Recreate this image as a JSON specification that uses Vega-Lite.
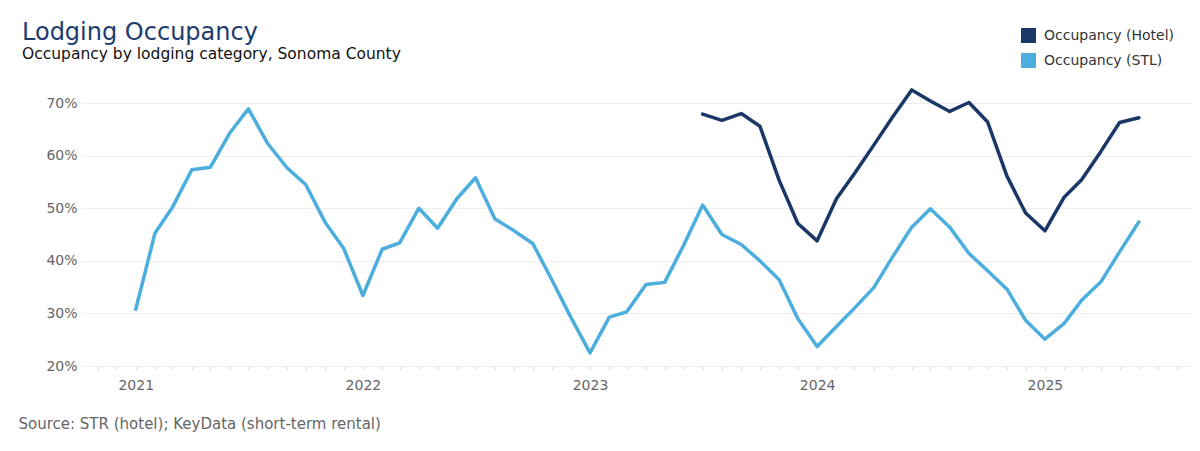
{
  "$schema": "https://vega.github.io/schema/vega-lite/v6.json",
  "autosize": {"type": "none"},
  "padding": {"left": 81, "top": 82, "right": 7, "bottom": 85},
  "width": 1112,
  "height": 284,
  "background": "white",
  "title": {
    "text": "Lodging Occupancy",
    "subtitle": "Occupancy by lodging category, Sonoma County",
    "anchor": "start",
    "frame": "group",
    "dx": -59,
    "offset": -34,
    "font": "DejaVu Sans",
    "fontSize": 24,
    "fontWeight": "normal",
    "color": "#1d3b6e",
    "subtitleFont": "DejaVu Sans",
    "subtitleFontSize": 15.5,
    "subtitleColor": "#111111",
    "subtitlePadding": 2
  },
  "config": {
    "view": {"stroke": null},
    "font": "DejaVu Sans"
  },
  "data": {
    "values": [
      {"date": "2021-01-01", "series": "Occupancy (STL)", "value": 0.308},
      {"date": "2021-02-01", "series": "Occupancy (STL)", "value": 0.453},
      {"date": "2021-03-01", "series": "Occupancy (STL)", "value": 0.502},
      {"date": "2021-04-01", "series": "Occupancy (STL)", "value": 0.573},
      {"date": "2021-05-01", "series": "Occupancy (STL)", "value": 0.578},
      {"date": "2021-06-01", "series": "Occupancy (STL)", "value": 0.643},
      {"date": "2021-07-01", "series": "Occupancy (STL)", "value": 0.689},
      {"date": "2021-08-01", "series": "Occupancy (STL)", "value": 0.623},
      {"date": "2021-09-01", "series": "Occupancy (STL)", "value": 0.577},
      {"date": "2021-10-01", "series": "Occupancy (STL)", "value": 0.545},
      {"date": "2021-11-01", "series": "Occupancy (STL)", "value": 0.474},
      {"date": "2021-12-01", "series": "Occupancy (STL)", "value": 0.424},
      {"date": "2022-01-01", "series": "Occupancy (STL)", "value": 0.334},
      {"date": "2022-02-01", "series": "Occupancy (STL)", "value": 0.422},
      {"date": "2022-03-01", "series": "Occupancy (STL)", "value": 0.434},
      {"date": "2022-04-01", "series": "Occupancy (STL)", "value": 0.500},
      {"date": "2022-05-01", "series": "Occupancy (STL)", "value": 0.462},
      {"date": "2022-06-01", "series": "Occupancy (STL)", "value": 0.518},
      {"date": "2022-07-01", "series": "Occupancy (STL)", "value": 0.558},
      {"date": "2022-08-01", "series": "Occupancy (STL)", "value": 0.480},
      {"date": "2022-09-01", "series": "Occupancy (STL)", "value": 0.457},
      {"date": "2022-10-01", "series": "Occupancy (STL)", "value": 0.433},
      {"date": "2022-11-01", "series": "Occupancy (STL)", "value": 0.363},
      {"date": "2022-12-01", "series": "Occupancy (STL)", "value": 0.293},
      {"date": "2023-01-01", "series": "Occupancy (STL)", "value": 0.225},
      {"date": "2023-02-01", "series": "Occupancy (STL)", "value": 0.293},
      {"date": "2023-03-01", "series": "Occupancy (STL)", "value": 0.303},
      {"date": "2023-04-01", "series": "Occupancy (STL)", "value": 0.355},
      {"date": "2023-05-01", "series": "Occupancy (STL)", "value": 0.359},
      {"date": "2023-06-01", "series": "Occupancy (STL)", "value": 0.431},
      {"date": "2023-07-01", "series": "Occupancy (STL)", "value": 0.506},
      {"date": "2023-08-01", "series": "Occupancy (STL)", "value": 0.450},
      {"date": "2023-09-01", "series": "Occupancy (STL)", "value": 0.431},
      {"date": "2023-10-01", "series": "Occupancy (STL)", "value": 0.400},
      {"date": "2023-11-01", "series": "Occupancy (STL)", "value": 0.364},
      {"date": "2023-12-01", "series": "Occupancy (STL)", "value": 0.290},
      {"date": "2024-01-01", "series": "Occupancy (STL)", "value": 0.237},
      {"date": "2024-02-01", "series": "Occupancy (STL)", "value": 0.275},
      {"date": "2024-03-01", "series": "Occupancy (STL)", "value": 0.310},
      {"date": "2024-04-01", "series": "Occupancy (STL)", "value": 0.349},
      {"date": "2024-05-01", "series": "Occupancy (STL)", "value": 0.407},
      {"date": "2024-06-01", "series": "Occupancy (STL)", "value": 0.464},
      {"date": "2024-07-01", "series": "Occupancy (STL)", "value": 0.499},
      {"date": "2024-08-01", "series": "Occupancy (STL)", "value": 0.464},
      {"date": "2024-09-01", "series": "Occupancy (STL)", "value": 0.414},
      {"date": "2024-10-01", "series": "Occupancy (STL)", "value": 0.381},
      {"date": "2024-11-01", "series": "Occupancy (STL)", "value": 0.346},
      {"date": "2024-12-01", "series": "Occupancy (STL)", "value": 0.287},
      {"date": "2025-01-01", "series": "Occupancy (STL)", "value": 0.251},
      {"date": "2025-02-01", "series": "Occupancy (STL)", "value": 0.281},
      {"date": "2025-03-01", "series": "Occupancy (STL)", "value": 0.325},
      {"date": "2025-04-01", "series": "Occupancy (STL)", "value": 0.360},
      {"date": "2025-05-01", "series": "Occupancy (STL)", "value": 0.417},
      {"date": "2025-06-01", "series": "Occupancy (STL)", "value": 0.474},
      {"date": "2023-07-01", "series": "Occupancy (Hotel)", "value": 0.679},
      {"date": "2023-08-01", "series": "Occupancy (Hotel)", "value": 0.667},
      {"date": "2023-09-01", "series": "Occupancy (Hotel)", "value": 0.680},
      {"date": "2023-10-01", "series": "Occupancy (Hotel)", "value": 0.656},
      {"date": "2023-11-01", "series": "Occupancy (Hotel)", "value": 0.553},
      {"date": "2023-12-01", "series": "Occupancy (Hotel)", "value": 0.471},
      {"date": "2024-01-01", "series": "Occupancy (Hotel)", "value": 0.438},
      {"date": "2024-02-01", "series": "Occupancy (Hotel)", "value": 0.518},
      {"date": "2024-03-01", "series": "Occupancy (Hotel)", "value": 0.566},
      {"date": "2024-04-01", "series": "Occupancy (Hotel)", "value": 0.620},
      {"date": "2024-05-01", "series": "Occupancy (Hotel)", "value": 0.673},
      {"date": "2024-06-01", "series": "Occupancy (Hotel)", "value": 0.725},
      {"date": "2024-07-01", "series": "Occupancy (Hotel)", "value": 0.704},
      {"date": "2024-08-01", "series": "Occupancy (Hotel)", "value": 0.684},
      {"date": "2024-09-01", "series": "Occupancy (Hotel)", "value": 0.701},
      {"date": "2024-10-01", "series": "Occupancy (Hotel)", "value": 0.664},
      {"date": "2024-11-01", "series": "Occupancy (Hotel)", "value": 0.561},
      {"date": "2024-12-01", "series": "Occupancy (Hotel)", "value": 0.491},
      {"date": "2025-01-01", "series": "Occupancy (Hotel)", "value": 0.457},
      {"date": "2025-02-01", "series": "Occupancy (Hotel)", "value": 0.521},
      {"date": "2025-03-01", "series": "Occupancy (Hotel)", "value": 0.554},
      {"date": "2025-04-01", "series": "Occupancy (Hotel)", "value": 0.608},
      {"date": "2025-05-01", "series": "Occupancy (Hotel)", "value": 0.663},
      {"date": "2025-06-01", "series": "Occupancy (Hotel)", "value": 0.672}
    ]
  },
  "mark": {"type": "line", "strokeWidth": 3.5, "strokeJoin": "round", "strokeCap": "round"},
  "encoding": {
    "x": {
      "field": "date",
      "type": "temporal",
      "scale": {"domain": ["2020-10-05", "2025-08-27"]},
      "axis": {
        "title": "Source: STR (hotel); KeyData (short-term rental)",
        "titleAnchor": "start",
        "titleX": -63,
        "titleY": 62,
        "titleBaseline": "alphabetic",
        "titleFontSize": 15,
        "titleFontWeight": "normal",
        "titleColor": "#666666",
        "titleFont": "DejaVu Sans",
        "tickCount": {"interval": "month", "step": 1},
        "labelExpr": "month(datum.value) == 0 ? timeFormat(datum.value, '%Y') : ''",
        "labelOverlap": false,
        "labelFontSize": 14,
        "labelColor": "#666666",
        "labelPadding": 8,
        "domain": false,
        "grid": false,
        "ticks": true,
        "tickSize": 4,
        "tickColor": "#dddddd",
        "tickWidth": 1
      }
    },
    "y": {
      "field": "value",
      "type": "quantitative",
      "scale": {"domain": [0.2, 0.74], "nice": false, "zero": false},
      "axis": {
        "title": null,
        "values": [0.2, 0.3, 0.4, 0.5, 0.6, 0.7],
        "format": ".0%",
        "labelFontSize": 14,
        "labelColor": "#666666",
        "labelPadding": 4,
        "domain": false,
        "ticks": false,
        "grid": true,
        "gridColor": "#eeeeee",
        "gridWidth": 1
      }
    },
    "color": {
      "field": "series",
      "type": "nominal",
      "scale": {"domain": ["Occupancy (Hotel)", "Occupancy (STL)"], "range": ["#1b3768", "#4caede"]},
      "legend": {
        "title": null,
        "orient": "none",
        "legendX": 940,
        "legendY": -54,
        "symbolType": "square",
        "symbolSize": 225,
        "symbolStrokeWidth": 0,
        "labelFontSize": 14,
        "labelColor": "#333333",
        "labelOffset": 8,
        "rowPadding": 10,
        "encode": {
          "symbols": {"update": {"fill": {"scale": "color", "field": "value"}, "strokeWidth": {"value": 0}, "opacity": {"value": 1}}}
        }
      }
    }
  }
}
